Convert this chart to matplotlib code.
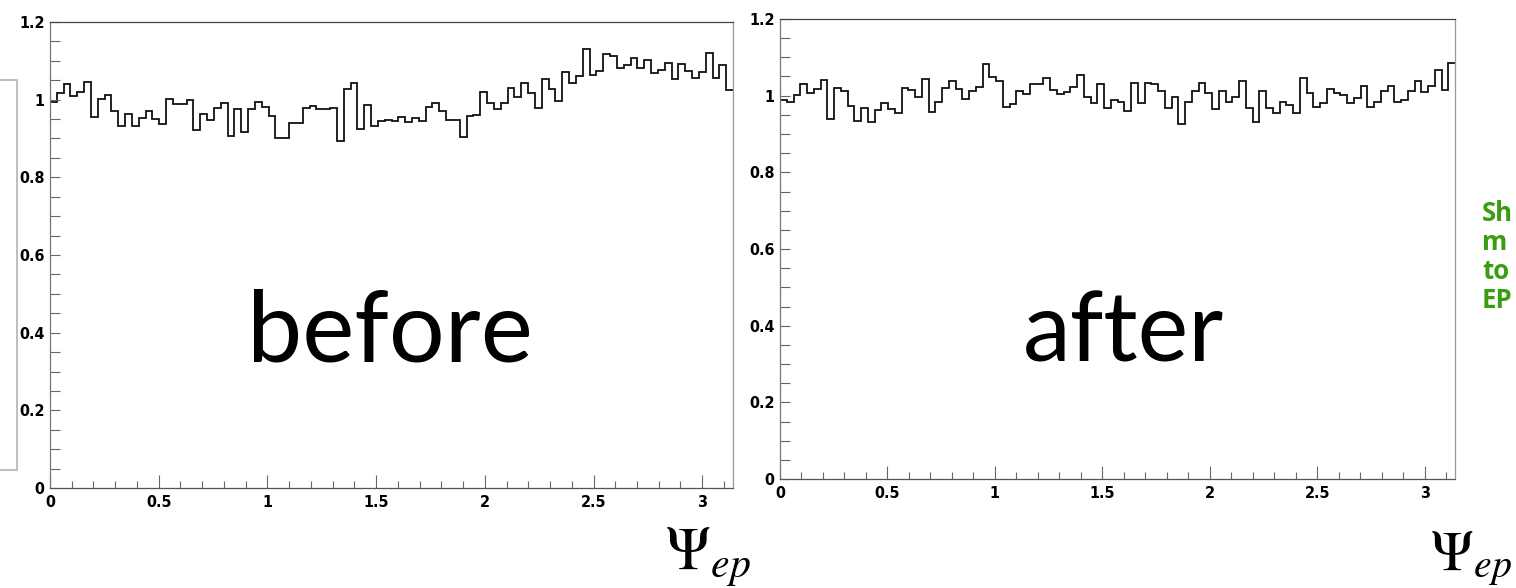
import numpy as np
import matplotlib
matplotlib.use("Agg")
import matplotlib.pyplot as plt
from matplotlib.ticker import FixedLocator, MultipleLocator
from matplotlib.patches import Rectangle

# ---------------- data ----------------
before_vals = [
    0.995, 1.018, 1.040, 1.010, 1.019, 1.046, 0.956, 1.001, 1.011, 0.971,
    0.931, 0.962, 0.931, 0.952, 0.971, 0.949, 0.937, 1.003, 0.989, 0.989,
    0.998, 0.922, 0.962, 0.948, 0.978, 0.992, 0.907, 0.975, 0.918, 0.977,
    0.995, 0.980, 0.958, 0.900, 0.901, 0.939, 0.939, 0.979, 0.984, 0.977,
    0.975, 0.978, 0.894, 1.028, 1.042, 0.924, 0.985, 0.932, 0.945, 0.948,
    0.945, 0.955, 0.943, 0.953, 0.946, 0.982, 0.992, 0.972, 0.948, 0.948,
    0.903, 0.958, 0.960, 1.021, 0.991, 0.977, 0.991, 1.030, 1.006, 1.042,
    1.016, 0.978, 1.054, 1.027, 0.997, 1.071, 1.044, 1.061, 1.130, 1.063,
    1.074, 1.117, 1.113, 1.081, 1.088, 1.107, 1.082, 1.103, 1.068, 1.076,
    1.095, 1.053, 1.093, 1.075, 1.055, 1.072, 1.120, 1.057, 1.089, 1.025,
]
after_vals = [
    0.989, 0.983, 1.001, 1.031, 1.008, 1.017, 1.042, 0.940, 1.021, 1.011,
    0.973, 0.935, 0.967, 0.930, 0.963, 0.980, 0.964, 0.956, 1.021, 1.016,
    0.997, 1.044, 0.958, 0.984, 1.021, 1.037, 1.017, 0.991, 1.011, 1.022,
    1.083, 1.048, 1.037, 0.971, 0.978, 1.011, 1.004, 1.031, 1.031, 1.045,
    1.015, 1.004, 1.010, 1.023, 1.055, 0.997, 0.980, 1.030, 0.968, 0.989,
    0.984, 0.960, 1.032, 0.980, 1.032, 1.031, 1.013, 0.969, 0.997, 0.926,
    0.984, 1.011, 1.032, 1.006, 0.965, 1.013, 0.984, 0.997, 1.037, 0.967,
    0.930, 1.011, 0.967, 0.954, 0.984, 0.976, 0.956, 1.045, 1.006, 0.971,
    0.982, 1.018, 1.006, 1.002, 0.980, 0.993, 1.025, 0.971, 0.984, 1.011,
    1.025, 0.984, 0.989, 1.011, 1.037, 1.009, 1.024, 1.067, 1.015, 1.084,
]
n_bins = 100
x_min, x_max = 0.0, np.pi
y_min, y_max = 0.0, 1.2
x_major = [0, 0.5, 1, 1.5, 2, 2.5, 3]
x_labels = ["0", "0.5", "1", "1.5", "2", "2.5", "3"]
y_major = [0, 0.2, 0.4, 0.6, 0.8, 1, 1.2]
y_labels = ["0", "0.2", "0.4", "0.6", "0.8", "1", "1.2"]
panel_words = ["before", "after"]
axis_label = r"$\Psi_{ep}$"
side_lines = ["Sh", "m", "to", "EP"]

# ---------------- figure ----------------
plt.rcParams["mathtext.fontset"] = "stix"
W, H = 1516, 588
fig = plt.figure(figsize=(W / 100, H / 100), dpi=100)
fig.patch.set_facecolor("white")


def fx(px):
    return px / W


def fy(py):
    return 1 - py / H


tick_font = dict(family=["Liberation Sans Narrow", "DejaVu Sans"],
                 weight="bold", size=11.5, stretch="condensed")

edges = np.linspace(x_min, x_max, n_bins + 1)


def make_panel(rect, vals):
    ax = fig.add_axes(rect)
    ax.stairs(vals, edges, baseline=None, color="#111111", linewidth=1.3)
    ax.set_xlim(x_min, x_max)
    ax.set_ylim(y_min, y_max)
    ax.xaxis.set_major_locator(FixedLocator(x_major))
    ax.xaxis.set_minor_locator(MultipleLocator(0.1))
    ax.yaxis.set_major_locator(FixedLocator(y_major))
    ax.yaxis.set_minor_locator(MultipleLocator(0.05))
    ax.set_xticklabels(x_labels, fontdict=tick_font)
    ax.set_yticklabels(y_labels, fontdict=tick_font)
    ax.tick_params(axis="x", which="major", direction="in", length=9.5,
                   width=0.8, color="#666666", pad=5)
    ax.tick_params(axis="x", which="minor", direction="in", length=5,
                   width=0.8, color="#666666")
    ax.tick_params(axis="y", which="major", direction="in", length=7.5,
                   width=0.8, color="#666666", pad=4)
    ax.tick_params(axis="y", which="minor", direction="in", length=7,
                   width=0.8, color="#666666")
    ax.spines["top"].set_color("#444444")
    ax.spines["left"].set_color("#777777")
    ax.spines["bottom"].set_color("#555555")
    ax.spines["right"].set_color("#999999")
    for s in ax.spines.values():
        s.set_linewidth(0.9)
    return ax


ax1 = make_panel([fx(50), fy(488), fx(683), 466 / H], before_vals)
ax2 = make_panel([fx(780), fy(479), fx(675), 460 / H], after_vals)

# big words
fig.text(fx(390), fy(362), panel_words[0], ha="center", va="baseline",
         fontsize=71, family="Lato", color="black")
fig.text(fx(1123), fy(362), panel_words[1], ha="center", va="baseline",
         fontsize=69, family="Lato", color="black")

# axis labels
fig.text(fx(665), fy(570), axis_label, ha="left", va="baseline",
         fontsize=43, color="black")
fig.text(fx(1430), fy(570), axis_label, ha="left", va="baseline",
         fontsize=41, color="black")

# clipped green side text
for i, t in enumerate(side_lines):
    fig.text(fx(1482), fy(221 + 29 * i), t, ha="left", va="baseline",
             fontsize=18.5, weight="bold", family="Open Sans", color="#3a9d0f")

# left clipped frame from neighbouring slide element
fig.add_artist(Rectangle((fx(-20), fy(470)), fx(37), (470 - 80) / H,
                         transform=fig.transFigure, fill=False,
                         edgecolor="#c0c0c0", linewidth=1.5))

fig.savefig("out.png", dpi=100, facecolor="white")
